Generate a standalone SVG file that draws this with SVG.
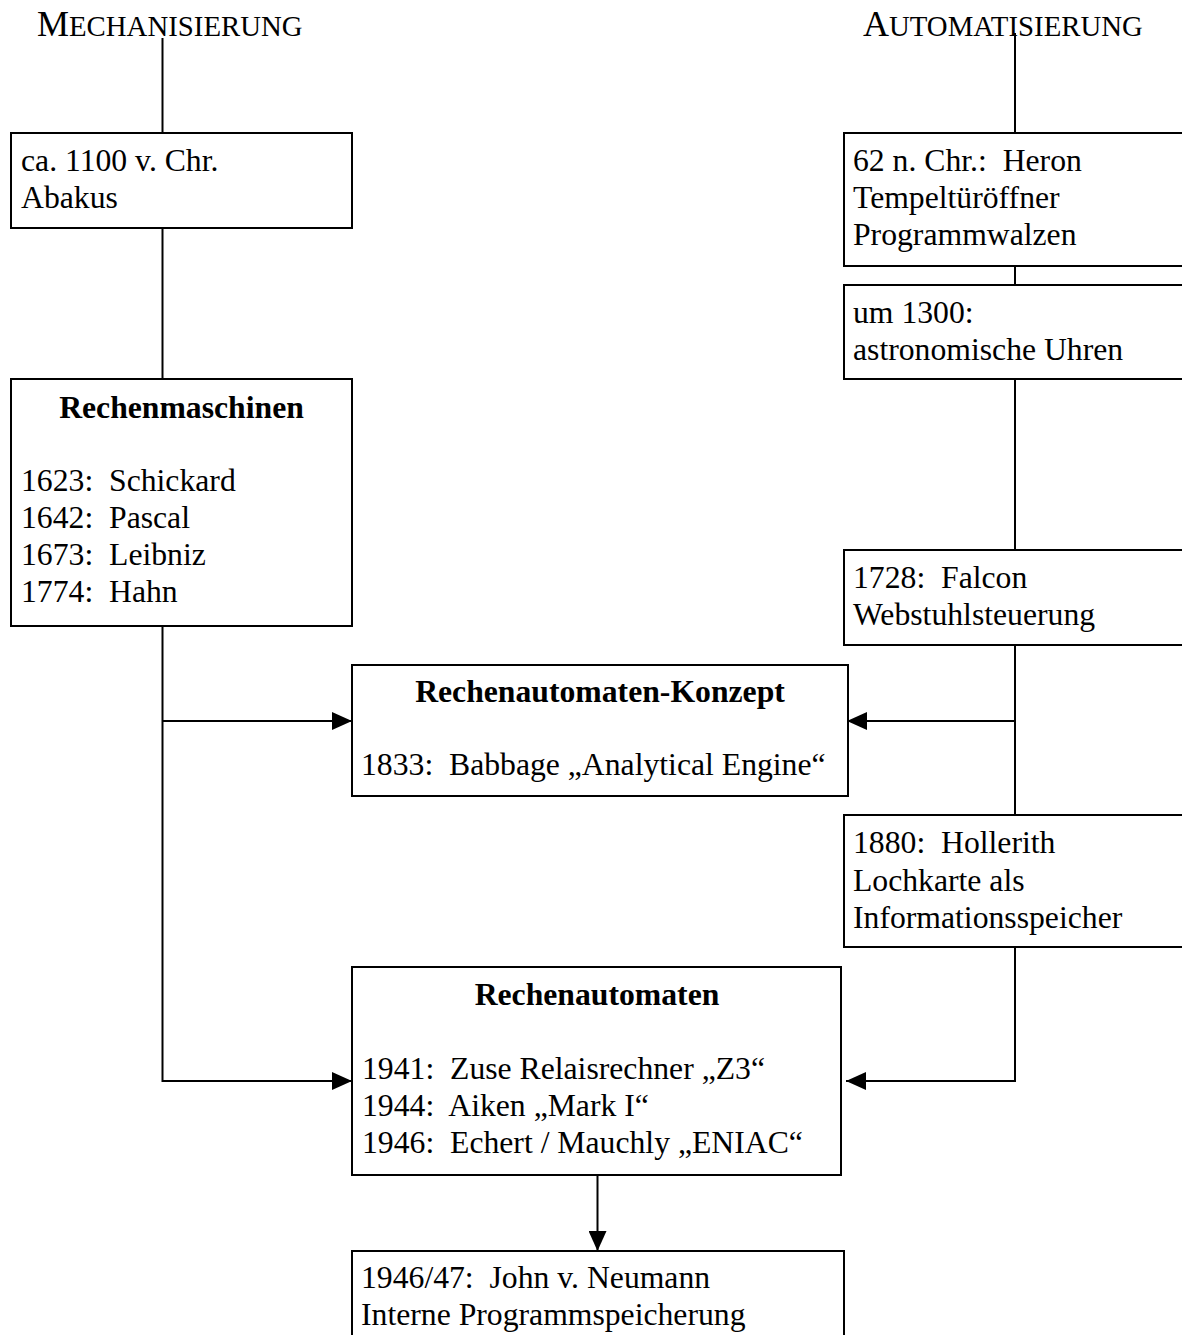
<svg xmlns="http://www.w3.org/2000/svg" width="1182" height="1335" viewBox="0 0 1182 1335">
<style>
text{font-family:"Liberation Serif","Times New Roman",serif;font-size:31.7px;fill:#000;white-space:pre}
.b{font-weight:bold;text-anchor:middle}
.h{font-size:36px}
.sc{font-size:28.8px}
.box{fill:#fff;stroke:#000;stroke-width:2}
.c{fill:none;stroke:#000;stroke-width:2}
</style>
<defs>
<marker id="ah" markerUnits="userSpaceOnUse" markerWidth="20" markerHeight="18" refX="20" refY="9" orient="auto">
<path d="M0,0 L20,9 L0,18 z" fill="#000"/>
</marker>
</defs>
<g id="connectors">
<path class="c" d="M162.5,38 V133"/>
<path class="c" d="M1015,33 V133"/>
<path class="c" d="M162.5,228 V379"/>
<path class="c" d="M1015,266 V285"/>
<path class="c" d="M1015,379 V550"/>
<path class="c" d="M162.5,626 V1081 H352" marker-end="url(#ah)"/>
<path class="c" d="M162.5,721 H352" marker-end="url(#ah)"/>
<path class="c" d="M1015,645 V815"/>
<path class="c" d="M1015,721 H847" marker-end="url(#ah)"/>
<path class="c" d="M1015,947 V1081 H846" marker-end="url(#ah)"/>
<path class="c" d="M597.5,1175 V1251" marker-end="url(#ah)"/>
</g>
<g id="heading-mech"><text x="37" y="36" class="h">M<tspan class="sc">ECHANISIERUNG</tspan></text></g>
<g id="heading-auto"><text x="863" y="36" class="h">A<tspan class="sc">UTOMATISIERUNG</tspan></text></g>
<g id="abakus">
<rect class="box" x="11" y="133" width="341" height="95"/>
<text x="21" y="171">ca. 1100 v. Chr.</text>
<text x="21" y="208">Abakus</text>
</g>
<g id="heron">
<rect class="box" x="844" y="133" width="400" height="133"/>
<text x="853" y="171">62 n. Chr.:  Heron</text>
<text x="853" y="208">Tempeltüröffner</text>
<text x="853" y="245">Programmwalzen</text>
</g>
<g id="uhren">
<rect class="box" x="844" y="285" width="400" height="94"/>
<text x="853" y="323">um 1300:</text>
<text x="853" y="360">astronomische Uhren</text>
</g>
<g id="rechenmaschinen">
<rect class="box" x="11" y="379" width="341" height="247"/>
<text x="181.5" y="418" class="b">Rechenmaschinen</text>
<text x="21" y="491">1623:  Schickard</text>
<text x="21" y="528">1642:  Pascal</text>
<text x="21" y="565">1673:  Leibniz</text>
<text x="21" y="602">1774:  Hahn</text>
</g>
<g id="falcon">
<rect class="box" x="844" y="550" width="400" height="95"/>
<text x="853" y="588">1728:  Falcon</text>
<text x="853" y="625">Webstuhlsteuerung</text>
</g>
<g id="konzept">
<rect class="box" x="352" y="665" width="496" height="131"/>
<text x="600" y="702" class="b">Rechenautomaten-Konzept</text>
<text x="361" y="775">1833:  Babbage „Analytical Engine“</text>
</g>
<g id="hollerith">
<rect class="box" x="844" y="815" width="400" height="132"/>
<text x="853" y="853">1880:  Hollerith</text>
<text x="853" y="891">Lochkarte als</text>
<text x="853" y="928">Informationsspeicher</text>
</g>
<g id="rechenautomaten">
<rect class="box" x="352" y="967" width="489" height="208"/>
<text x="597" y="1005" class="b">Rechenautomaten</text>
<text x="362" y="1079">1941:  Zuse Relaisrechner „Z3“</text>
<text x="362" y="1116">1944:  Aiken „Mark I“</text>
<text x="362" y="1153">1946:  Echert / Mauchly „ENIAC“</text>
</g>
<g id="neumann">
<rect class="box" x="352" y="1251" width="492" height="120"/>
<text x="361" y="1288">1946/47:  John v. Neumann</text>
<text x="361" y="1325">Interne Programmspeicherung</text>
</g>
</svg>
